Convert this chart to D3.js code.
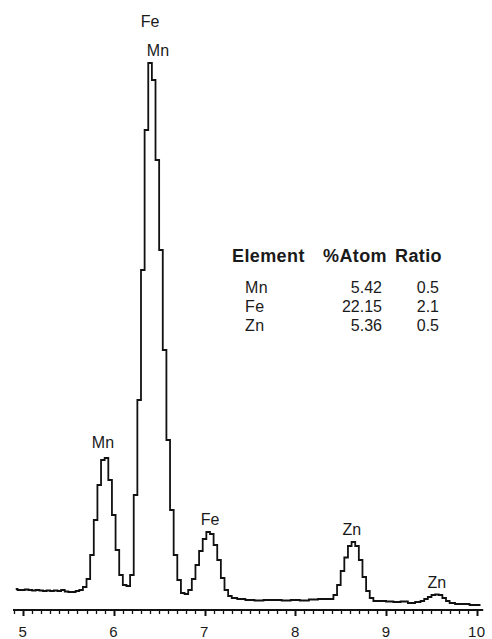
<!DOCTYPE html>
<html>
<head>
<meta charset="utf-8">
<script src="https://cdn.jsdelivr.net/npm/d3@7"></script>
<style>
  html, body { margin: 0; padding: 0; background: #fff; }
  svg { display: block; }
  text { font-family: "Liberation Sans", Arial, sans-serif; fill: #1a1a1a; }
</style>
</head>
<body>
<script>
// ---- Data ----
const energies = [4.92,4.96,5.00,5.04,5.08,5.12,5.16,5.20,5.24,5.28,5.32,5.36,5.40,5.44,5.48,5.52,5.56,5.60,5.64,5.68,
  5.72,5.76,5.80,5.84,5.88,5.92,5.96,6.00,6.04,6.08,6.12,6.16,6.20,6.24,6.28,6.32,6.36,6.40,6.44,6.48,
  6.52,6.56,6.60,6.64,6.68,6.72,6.76,6.80,6.84,6.88,6.92,6.96,7.00,7.04,7.08,7.12,7.16,7.20,7.24,7.28,
  7.32,7.40,7.50,7.60,7.70,7.80,7.90,8.00,8.10,8.20,8.30,8.40,8.44,8.48,8.52,8.56,8.60,8.64,8.68,8.72,
  8.76,8.80,8.84,8.88,8.96,9.04,9.12,9.20,9.28,9.36,9.40,9.44,9.48,9.52,9.56,9.60,9.64,9.68,9.72,9.80,
  9.88,9.96,10.04];
const counts = [42,40,40,41,40,39,40,39,38,39,38,39,38,40,37,36,36,38,40,46,
  62,110,180,250,300,304,260,190,120,70,50,48,70,230,420,680,960,1094,1060,900,
  720,520,340,200,110,60,34,32,40,62,90,118,142,156,152,130,100,64,40,28,
  24,22,20,19,20,20,19,20,19,21,22,22,30,50,78,105,128,136,128,100,
  66,38,24,18,18,17,16,17,14,16,18,22,26,30,31,30,24,18,14,12,
  12,10,10];

const peakNames    = ["Fe", "Mn", "Mn", "Fe", "Zn", "Zn"];
const peakEnergies = [6.399, 6.487, 5.881, 7.06, 8.623, 9.559];
const peakCounts   = [1166, 1108, 324, 170, 150, 44];

const tableHeader   = ["Element", "%Atom", "Ratio"];
const tableElements = ["Mn", "Fe", "Zn"];
const tableAtom     = ["5.42", "22.15", "5.36"];
const tableRatio    = ["0.5", "2.1", "0.5"];

const majorTicks = [5, 6, 7, 8, 9, 10];

// ---- Layout ----
const W = 492, H = 639;
const svg = d3.select("body").append("svg").attr("width", W).attr("height", H);

const x = d3.scaleLinear().domain([4.89, 10.07]).range([13, 483.2]);
const y = d3.scaleLinear().domain([0, 1100]).range([610, 60]);

// spectrum
const line = d3.line()
  .x((d, i) => x(energies[i]))
  .y(d => y(d))
  .curve(d3.curveStep);

svg.append("path")
  .datum(counts)
  .attr("d", line)
  .attr("fill", "none")
  .attr("stroke", "#111")
  .attr("stroke-width", 1.8)
  .attr("stroke-linejoin", "miter");

// x axis
const minorTicks = d3.range(49, 101).map(v => v / 10);
const isMajor = d => majorTicks.some(m => Math.abs(m - d) < 1e-6);
const axisG = svg.append("g").attr("transform", "translate(0,610)");
axisG.append("line")
  .attr("x1", x(4.89)).attr("x2", x(10.07))
  .attr("y1", 0).attr("y2", 0)
  .attr("stroke", "#111").attr("stroke-width", 2);
axisG.selectAll("line.minor").data(minorTicks).join("line")
  .attr("class", "minor")
  .attr("x1", d => Math.round(x(d)) + 0.5).attr("x2", d => Math.round(x(d)) + 0.5)
  .attr("y1", 0)
  .attr("y2", d => isMajor(d) ? 6 : 4)
  .attr("stroke", "#111").attr("stroke-width", d => isMajor(d) ? 2 : 1.3);
axisG.selectAll("text.tl").data(majorTicks).join("text")
  .attr("class", "tl")
  .attr("x", d => x(d)).attr("y", 27)
  .attr("text-anchor", "middle")
  .style("font-size", "15px")
  .style("letter-spacing", "0.5px")
  .text(d => d);

// peak labels
svg.selectAll("text.peak").data(peakNames).join("text")
  .attr("class", "peak")
  .attr("x", (d, i) => x(peakEnergies[i]))
  .attr("y", (d, i) => y(peakCounts[i]))
  .attr("text-anchor", "middle")
  .style("font-size", "16px")
  .text(d => d);

// table
const tbl = svg.append("g");
const headerX = [232, 323, 395];
tbl.selectAll("text.hd").data(tableHeader).join("text")
  .attr("class", "hd")
  .attr("x", (d, i) => headerX[i]).attr("y", 262)
  .style("font-size", "18px").style("font-weight", "bold")
  .style("letter-spacing", "0.4px")
  .text(d => d);
const rowY = [293, 312, 331];
tbl.selectAll("text.el").data(tableElements).join("text")
  .attr("class", "el")
  .attr("x", 245).attr("y", (d, i) => rowY[i])
  .style("font-size", "16px")
  .style("letter-spacing", "0.5px")
  .text(d => d);
tbl.selectAll("text.at").data(tableAtom).join("text")
  .attr("class", "at")
  .attr("x", 382).attr("y", (d, i) => rowY[i])
  .attr("text-anchor", "end")
  .style("font-size", "16px")
  .text(d => d);
tbl.selectAll("text.ra").data(tableRatio).join("text")
  .attr("class", "ra")
  .attr("x", 439).attr("y", (d, i) => rowY[i])
  .attr("text-anchor", "end")
  .style("font-size", "16px")
  .text(d => d);
</script>
</body>
</html>
